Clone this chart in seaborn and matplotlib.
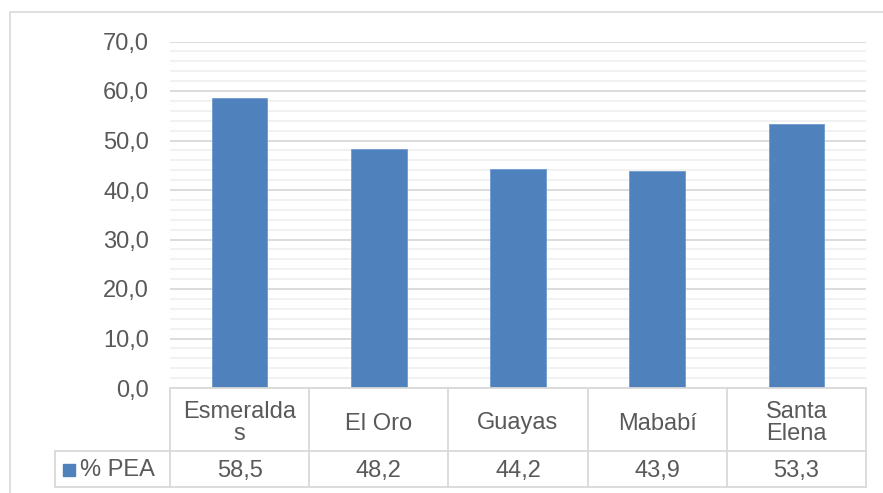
"""
plot.py - PEA by province, Excel-style column chart with data table underneath.
"""
import numpy as np
import matplotlib
matplotlib.use("Agg")
import matplotlib.pyplot as plt
from matplotlib.patches import Rectangle
from matplotlib.ticker import FuncFormatter, MultipleLocator
import seaborn as sns

# ------------------------------------------------------------------ #
# Data
# ------------------------------------------------------------------ #
PROVINCES = ["Esmeraldas", "El Oro", "Guayas", "Mababí", "Santa Elena"]
HEADER_LABELS = ["Esmeralda\ns", "El Oro", "Guayas", "Mababí", "Santa\nElena"]
PEA_PCT = [58.5, 48.2, 44.2, 43.9, 53.3]
VALUE_LABELS = ["58,5", "48,2", "44,2", "43,9", "53,3"]
SERIES_NAME = "% PEA"

BAR_COLOR = "#4F81BD"
TEXT_COLOR = "#595959"
GRID_MAJOR = "#D9D9D9"
GRID_MINOR = "#F0F0F0"
BORDER = "#D9D9D9"

W, H = 883, 493

sns.set_theme(style="white")
plt.rcParams["font.family"] = ["Liberation Sans", "DejaVu Sans"]

fig = plt.figure(figsize=(W / 100, H / 100), dpi=100)


def fx(px):
    return px / W


def fy(py):
    return 1 - py / H


# outer chart border (right/bottom run off the picture)
fig.add_artist(Rectangle((fx(10), fy(H + 5)), 1.0, fy(12) - fy(H + 5),
                         transform=fig.transFigure, fill=False,
                         edgecolor=BORDER, lw=1.2))

# ------------------------------------------------------------------ #
# Bars
# ------------------------------------------------------------------ #
left, right, top, base = 170, 866, 41.5, 388
ax = fig.add_axes([fx(left), fy(base), fx(right) - fx(left), fy(top) - fy(base)])
sns.barplot(x=PROVINCES, y=PEA_PCT, color=BAR_COLOR, saturation=1,
            width=0.4, edgecolor="#6F9AD1", linewidth=0.6, ax=ax, zorder=3)
ax.set_xlim(-0.5, len(PROVINCES) - 0.5)
ax.set_ylim(0, 70)
ax.yaxis.set_major_locator(MultipleLocator(10))
ax.yaxis.set_minor_locator(MultipleLocator(2))
ax.yaxis.set_major_formatter(FuncFormatter(lambda v, _: f"{v:.1f}".replace(".", ",")))
ax.grid(axis="y", which="major", color=GRID_MAJOR, lw=1.3, zorder=1)
ax.grid(axis="y", which="minor", color=GRID_MINOR, lw=1.3, zorder=0)
ax.grid(axis="x", visible=False)
ax.set_axisbelow(True)
ax.tick_params(axis="y", which="both", length=0, pad=15, labelsize=17,
               labelcolor=TEXT_COLOR)
ax.set_xticks([])
ax.set_xlabel("")
ax.set_ylabel("")
for s in ax.spines.values():
    s.set_visible(False)

# ------------------------------------------------------------------ #
# Data table
# ------------------------------------------------------------------ #
t_bottom = 487
tax = fig.add_axes([fx(left), fy(t_bottom), fx(right) - fx(left), fy(base) - fy(t_bottom)])
tax.set_xlim(ax.get_xlim())
tax.set_ylim(t_bottom - base, 0)  # pixel rows, top = 0
tax.axis("off")

n = len(PROVINCES)
col_px = (right - left) / n
leg_x = -0.5 - (left - 55) / col_px
row_split = 451 - base
row_end = t_bottom - base

kw = dict(color=BORDER, lw=1.3, clip_on=False)
tax.plot([-0.5, n - 0.5], [0, 0], **kw)
tax.plot([leg_x, n - 0.5], [row_split, row_split], **kw)
tax.plot([leg_x, n - 0.5], [row_end, row_end], **kw)
tax.plot([leg_x, leg_x], [row_split, row_end], **kw)
for xv in np.arange(-0.5, n, 1.0):
    tax.plot([xv, xv], [0, row_end], **kw)

for i, (hdr, val) in enumerate(zip(HEADER_LABELS, VALUE_LABELS)):
    tax.text(i, row_split / 2 + 4, hdr, ha="center", va="center", fontsize=17,
             color=TEXT_COLOR, linespacing=1.0)
    tax.text(i, (row_split + row_end) / 2 + 1.5, val, ha="center", va="center",
             fontsize=17, color=TEXT_COLOR)

# legend key in the row header
sw = 12 / col_px
tax.add_patch(Rectangle((leg_x + 8 / col_px, (row_split + row_end) / 2 - 5), sw, 12,
                        color=BAR_COLOR, clip_on=False))
tax.text(leg_x + 25 / col_px, (row_split + row_end) / 2 + 1.5, SERIES_NAME,
         ha="left", va="center", fontsize=17, color=TEXT_COLOR)

fig.savefig("out.png", dpi=100)
